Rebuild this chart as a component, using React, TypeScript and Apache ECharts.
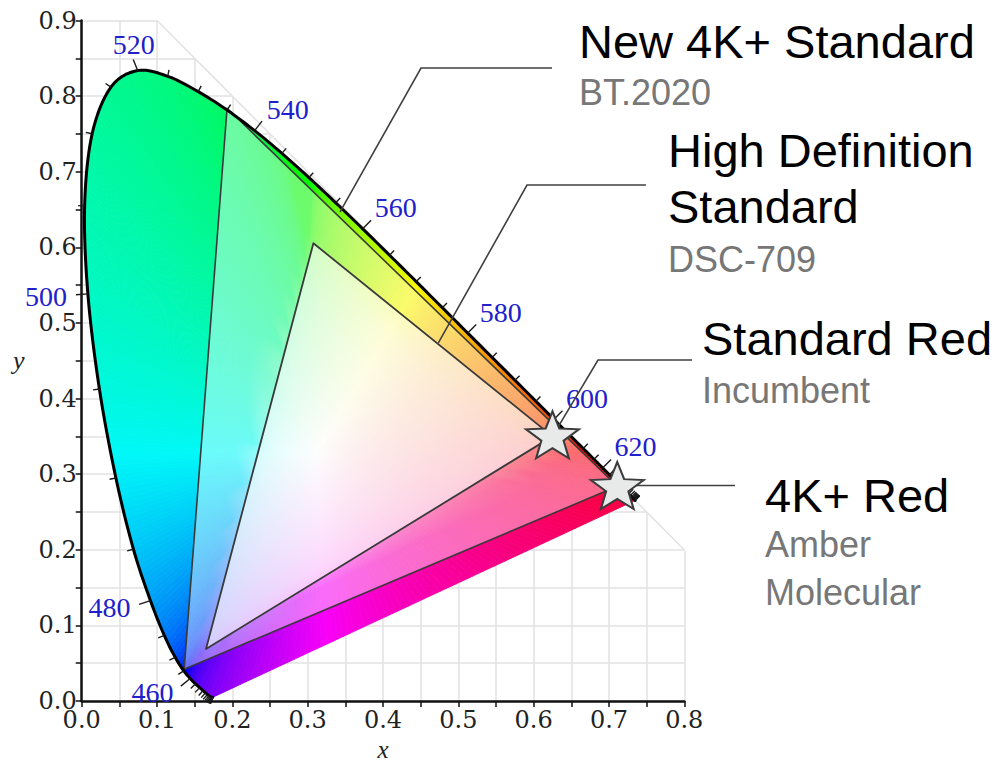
import React, { useEffect, useRef } from "react";
import * as echarts from "echarts";

// ---------------- data ----------------
const wavelengths = [
  380, 385, 390, 395, 400, 405, 410, 415, 420, 425, 430, 435, 440, 445, 450, 455, 460, 465, 470,
  475, 480, 485, 490, 495, 500, 505, 510, 515, 520, 525, 530, 535, 540, 545, 550, 555, 560, 565,
  570, 575, 580, 585, 590, 595, 600, 605, 610, 615, 620, 625, 630, 635, 640, 645, 650, 655, 660,
  665, 670, 675, 680, 685, 690, 695, 700,
];
const locusX = [
  0.1741, 0.174, 0.1738, 0.1736, 0.1733, 0.173, 0.1726, 0.1721, 0.1714,
  0.1703, 0.1689, 0.1669, 0.1644, 0.1611, 0.1566, 0.151, 0.144, 0.1355, 0.1241,
  0.1096, 0.0913, 0.0687, 0.0454, 0.0235, 0.0082, 0.0039, 0.0139, 0.0389, 0.0743,
  0.1142, 0.1547, 0.1929, 0.2296, 0.2658, 0.3016, 0.3373, 0.3731, 0.4087, 0.4441,
  0.4788, 0.5125, 0.5448, 0.5752, 0.6029, 0.627, 0.6482, 0.6658, 0.6801, 0.6915,
  0.7006, 0.7079, 0.714, 0.719, 0.723, 0.726, 0.7283, 0.73, 0.7311, 0.732,
  0.7327, 0.7334, 0.734, 0.7344, 0.7346, 0.7347,
];
const locusY = [
  0.005, 0.005, 0.0049, 0.0049, 0.0048, 0.0048, 0.0048, 0.0048, 0.0051,
  0.0058, 0.0069, 0.0086, 0.0109, 0.0138, 0.0177, 0.0227, 0.0297, 0.0399, 0.0578,
  0.0868, 0.1327, 0.2007, 0.295, 0.4127, 0.5384, 0.6548, 0.7502, 0.812, 0.8338,
  0.8262, 0.8059, 0.7816, 0.7543, 0.7243, 0.6923, 0.6589, 0.6245, 0.5896, 0.5547,
  0.5202, 0.4866, 0.4544, 0.4242, 0.3965, 0.3725, 0.3514, 0.334, 0.3197, 0.3083,
  0.2993, 0.292, 0.2859, 0.2809, 0.277, 0.274, 0.2717, 0.27, 0.2689, 0.268,
  0.2673, 0.2666, 0.266, 0.2656, 0.2654, 0.2653,
];
const labeledWavelengths = [460, 480, 500, 520, 540, 560, 580, 600, 620];
const whitePoint = [0.3127, 0.329];
const bt2020Gamut = [
  [0.193, 0.784],
  [0.711, 0.284],
  [0.136, 0.0419],
];
const dsc709Gamut = [
  [0.3076, 0.6054],
  [0.625, 0.35],
  [0.165, 0.0688],
];
const redPrimaries = [
  [0.625, 0.352],
  [0.711, 0.285],
];
const calloutTitles = [["New 4K+ Standard"], ["High Definition", "Standard"], ["Standard Red"], ["4K+ Red"]];
const calloutSubtitles = [["BT.2020"], ["DSC-709"], ["Incumbent"], ["Amber", "Molecular"]];
const calloutAnchors = [
  [0.343, 0.6468],
  [0.4735, 0.4735],
  [0.625, 0.35],
  [0.711, 0.285],
];

// ---------------- layout / style ----------------
const calloutLayout = [
  { x: 579, titleY: [41.4], subY: [92.5], leader: [[552, 68], [421, 68]] },
  { x: 668, titleY: [150.4, 206.7], subY: [259.2], leader: [[646, 185], [527, 185]] },
  { x: 702, titleY: [338.7], subY: [390.8], leader: [[692, 360], [598, 360]] },
  { x: 765, titleY: [495.4], subY: [544.2, 592.5], leader: null, horizontalTo: 735 },
];
const STAR_PATH =
  "path://M50,0L62.34,33.01L97.55,34.55L69.97,56.49L79.39,90.45L50,71L20.61,90.45L30.03,56.49L2.45,34.55L37.66,33.01Z";
const GRID_COLOR = "#e2e2e2";
const SANS = "'Liberation Sans', Arial, sans-serif";
const SERIF = "'Liberation Serif', 'Times New Roman', serif";

function chromaColor(x: number, y: number): string {
  const X = x / y;
  const Z = (1 - x - y) / y;
  let r = 3.2406 * X - 1.5372 - 0.4986 * Z;
  let g = -0.9689 * X + 1.8758 + 0.0415 * Z;
  let b = 0.0557 * X - 0.204 + 1.057 * Z;
  const mn = Math.min(r, g, b);
  if (mn < 0) {
    const w = -mn * 0.55;
    r += w;
    g += w;
    b += w;
  }
  r = Math.max(r, 0);
  g = Math.max(g, 0);
  b = Math.max(b, 0);
  const mx = Math.max(r, g, b, 1e-6);
  const enc = (c: number) => {
    c = c / mx;
    const v = c <= 0.0031308 ? 12.92 * c : 1.055 * Math.pow(c, 1 / 2.4) - 0.055;
    return Math.round(Math.min(1, Math.max(0, v)) * 248);
  };
  return `rgb(${enc(r)},${enc(g)},${enc(b)})`;
}

function renderGridCover(_params: any, api: any) {
  const p1 = api.coord([0.097, 0.903]);
  const p2 = api.coord([0.803, 0.903]);
  const p3 = api.coord([0.803, 0.197]);
  const d1 = api.coord([0.1, 0.9]);
  const d2 = api.coord([0.8, 0.2]);
  return {
    type: "group",
    children: [
      { type: "polygon", shape: { points: [p1, p2, p3] }, style: { fill: "#ffffff" } },
      {
        type: "line",
        shape: { x1: d1[0], y1: d1[1], x2: d2[0], y2: d2[1] },
        style: { stroke: GRID_COLOR, lineWidth: 1.5 },
      },
    ],
  };
}

// smooth curve through the locus samples (Catmull-Rom drawn as cubic Bezier), for rendering only
function smoothLocus(api: any): number[][] {
  const pts = locusX.map((x, i) => [x, locusY[i]]);
  const n = pts.length;
  const get = (i: number) => pts[Math.max(0, Math.min(n - 1, i))];
  const out: number[][] = [pts[0]];
  for (let i = 0; i < n - 1; i++) {
    const p0 = get(i - 1), p1 = get(i), p2 = get(i + 1), p3 = get(i + 2);
    const c1 = [p1[0] + (p2[0] - p0[0]) / 6, p1[1] + (p2[1] - p0[1]) / 6];
    const c2 = [p2[0] - (p3[0] - p1[0]) / 6, p2[1] - (p3[1] - p1[1]) / 6];
    const a = api.coord(p1), b = api.coord(p2);
    const k = Math.max(1, Math.ceil(Math.hypot(b[0] - a[0], b[1] - a[1]) / 5));
    for (let s = 1; s <= k; s++) {
      const t = s / k, u = 1 - t;
      out.push([
        u * u * u * p1[0] + 3 * u * u * t * c1[0] + 3 * u * t * t * c2[0] + t * t * t * p2[0],
        u * u * u * p1[1] + 3 * u * u * t * c1[1] + 3 * u * t * t * c2[1] + t * t * t * p2[1],
      ]);
    }
  }
  return out;
}

function renderHorseshoe(_params: any, api: any) {
  const children: any[] = [];
  const W = api.coord(whitePoint);
  const curve = smoothLocus(api);
  const edge = curve.slice();
  const first = curve[0];
  const last = curve[curve.length - 1];
  const pa0 = api.coord(last), pb0 = api.coord(first);
  const steps = Math.ceil(Math.hypot(pb0[0] - pa0[0], pb0[1] - pa0[1]) / 6);
  for (let k = 1; k < steps; k++) {
    const t = k / steps;
    edge.push([last[0] + (first[0] - last[0]) * t, last[1] + (first[1] - last[1]) * t]);
  }
  for (let i = 0; i < edge.length; i++) {
    const a = edge[i];
    const b = edge[(i + 1) % edge.length];
    const mid = [(a[0] + b[0]) / 2, (a[1] + b[1]) / 2];
    const pa = api.coord(a);
    const pb = api.coord(b);
    const pm = api.coord(mid);
    const stops: any[] = [];
    for (let s = 0; s <= 10; s++) {
      const t = s / 10;
      stops.push({
        offset: t,
        color: chromaColor(
          whitePoint[0] + (mid[0] - whitePoint[0]) * t,
          whitePoint[1] + (mid[1] - whitePoint[1]) * t
        ),
      });
    }
    const grad = new echarts.graphic.LinearGradient(W[0], W[1], pm[0], pm[1], stops, true);
    children.push({
      type: "polygon",
      shape: { points: [W, pa, pb] },
      style: { fill: grad, stroke: grad, lineWidth: 0.9 },
    });
  }
  // gamut overlays
  children.push({
    type: "polygon",
    shape: { points: bt2020Gamut.map((p) => api.coord(p)) },
    style: { fill: "rgba(255,255,255,0.42)", stroke: "#3a3a3a", lineWidth: 1.6, lineJoin: "round" },
  });
  children.push({
    type: "polygon",
    shape: { points: dsc709Gamut.map((p) => api.coord(p)) },
    style: { fill: "rgba(255,255,255,0.6)", stroke: "#3a3a3a", lineWidth: 1.8, lineJoin: "round" },
  });
  // locus border
  children.push({
    type: "polyline",
    shape: { points: curve.map((p) => api.coord(p)) },
    style: { stroke: "#000", lineWidth: 3, fill: null, lineJoin: "round", lineCap: "round" },
  });
  // ticks + labels
  const px = locusX.map((x, i) => api.coord([x, locusY[i]]));
  for (let i = 0; i < px.length; i++) {
    let lo = Math.max(0, i - 2);
    let hi = Math.min(px.length - 1, i + 2);
    let dx = px[hi][0] - px[lo][0];
    let dy = px[hi][1] - px[lo][1];
    let len = Math.hypot(dx, dy);
    while (len < 4 && (lo > 0 || hi < px.length - 1)) {
      lo = Math.max(0, lo - 1);
      hi = Math.min(px.length - 1, hi + 1);
      dx = px[hi][0] - px[lo][0];
      dy = px[hi][1] - px[lo][1];
      len = Math.hypot(dx, dy);
    }
    const nx = dy / len;
    const ny = -dx / len;
    const wl = wavelengths[i];
    const labeled = labeledWavelengths.indexOf(wl) >= 0;
    const tl = labeled ? 12 : 6.5;
    const P = px[i];
    children.push({
      type: "line",
      shape: { x1: P[0], y1: P[1], x2: P[0] + nx * tl, y2: P[1] + ny * tl },
      style: { stroke: "#1a1a1a", lineWidth: 1.4 },
    });
    if (labeled) {
      let lx: number, ly: number, align: string;
      if (nx > 0.3) {
        lx = P[0] + 12;
        ly = P[1] - 21;
        align = "left";
      } else if (ny < -0.7) {
        lx = P[0] - 4;
        ly = P[1] - 26;
        align = "center";
      } else {
        lx = P[0] + nx * 20 - 1;
        ly = P[1] + ny * 20 + 1;
        align = "right";
      }
      children.push({
        type: "text",
        style: {
          text: String(wl),
          x: lx,
          y: ly,
          fill: "#2020cc",
          fontSize: 28,
          fontFamily: SERIF,
          align,
          verticalAlign: "middle",
          textAlign: align,
          textVerticalAlign: "middle",
        },
      });
    }
  }
  return { type: "group", children };
}

function renderLeader(params: any, api: any) {
  const i = params.dataIndex;
  const anchor = api.coord([api.value(0), api.value(1)]);
  const lay: any = calloutLayout[i];
  const points = lay.leader ? [lay.leader[0], lay.leader[1], anchor] : [anchor, [lay.horizontalTo, anchor[1]]];
  return {
    type: "polyline",
    shape: { points },
    style: { stroke: "#404040", lineWidth: 1.6, fill: null },
  };
}

function buildGraphics() {
  const els: any[] = [];
  calloutTitles.forEach((lines, i) => {
    const lay = calloutLayout[i];
    lines.forEach((t, j) => {
      els.push({
        type: "text",
        z: 100,
        x: lay.x,
        y: lay.titleY[j],
        style: {
          text: t,
          fill: "#000",
          fontSize: 47,
          fontFamily: SANS,
          verticalAlign: "middle",
          textVerticalAlign: "middle",
        },
      });
    });
    calloutSubtitles[i].forEach((t, j) => {
      els.push({
        type: "text",
        z: 100,
        x: lay.x,
        y: lay.subY[j],
        style: {
          text: t,
          fill: "#777777",
          fontSize: 36,
          fontFamily: SANS,
          verticalAlign: "middle",
          textVerticalAlign: "middle",
        },
      });
    });
  });
  return els;
}

const axisCommon = {
  type: "value",
  axisLine: { show: true, onZero: false, lineStyle: { color: "#111", width: 2.5 } },
  axisTick: { show: true, length: 6, lineStyle: { color: "#111", width: 1.5 } },
  minorTick: { show: true, splitNumber: 2, length: 6, lineStyle: { color: "#111", width: 1.5 } },
  splitLine: { show: true, lineStyle: { color: GRID_COLOR, width: 1.5 } },
  minorSplitLine: { show: true, lineStyle: { color: GRID_COLOR, width: 1.5 } },
};

export default function App() {
  const ref = useRef<HTMLDivElement>(null);
  useEffect(() => {
    if (!ref.current) return;
    const chart = echarts.init(ref.current, null, { renderer: "svg" });
    chart.setOption({
      animation: false,
      backgroundColor: "#ffffff",
      grid: {
        left: 81.7,
        top: 20.5,
        width: 602.6,
        height: 680.5,
        containLabel: false,
        outerBoundsMode: "none",
      },
      xAxis: {
        ...axisCommon,
        min: 0,
        max: 0.8,
        interval: 0.1,
        axisLabel: {
          formatter: (v: number) => v.toFixed(1),
          fontFamily: "'DejaVu Serif', serif",
          fontSize: 24,
          lineHeight: 18,
          color: "#222",
          margin: 10,
        },
        name: "x",
        nameLocation: "middle",
        nameGap: 45,
        nameTextStyle: {
          fontFamily: SERIF,
          fontStyle: "italic",
          fontSize: 25,
          lineHeight: 18,
          color: "#222",
          align: "center",
          verticalAlign: "middle",
        },
      },
      yAxis: {
        ...axisCommon,
        min: 0,
        max: 0.9,
        interval: 0.1,
        axisLabel: {
          formatter: (v: number) => v.toFixed(1),
          fontFamily: "'DejaVu Serif', serif",
          fontSize: 24,
          lineHeight: 18,
          color: "#222",
          margin: 5,
        },
        name: "y",
        nameLocation: "middle",
        nameGap: 63,
        nameRotate: 0,
        nameTextStyle: {
          fontFamily: SERIF,
          fontStyle: "italic",
          fontSize: 26,
          color: "#222",
          align: "center",
          verticalAlign: "middle",
          padding: [10, 0, 0, 0],
        },
      },
      series: [
        { type: "custom", z: 1, clip: false, silent: true, data: [0], renderItem: renderGridCover },
        { type: "custom", z: 2, clip: false, silent: true, data: [0], renderItem: renderHorseshoe },
        { type: "custom", z: 4, clip: false, silent: true, data: calloutAnchors, renderItem: renderLeader },
        {
          type: "scatter",
          z: 5,
          clip: false,
          silent: true,
          data: redPrimaries,
          symbol: STAR_PATH,
          symbolSize: [53, 47],
          symbolKeepAspect: false,
          itemStyle: { color: "#e8e9e9", borderColor: "#3c3c3c", borderWidth: 2, opacity: 1 },
        },
      ],
      graphic: buildGraphics(),
    });
    return () => chart.dispose();
  }, []);
  return <div ref={ref} style={{ position: "absolute", left: 0, top: 0, width: 999, height: 762 }} />;
}
